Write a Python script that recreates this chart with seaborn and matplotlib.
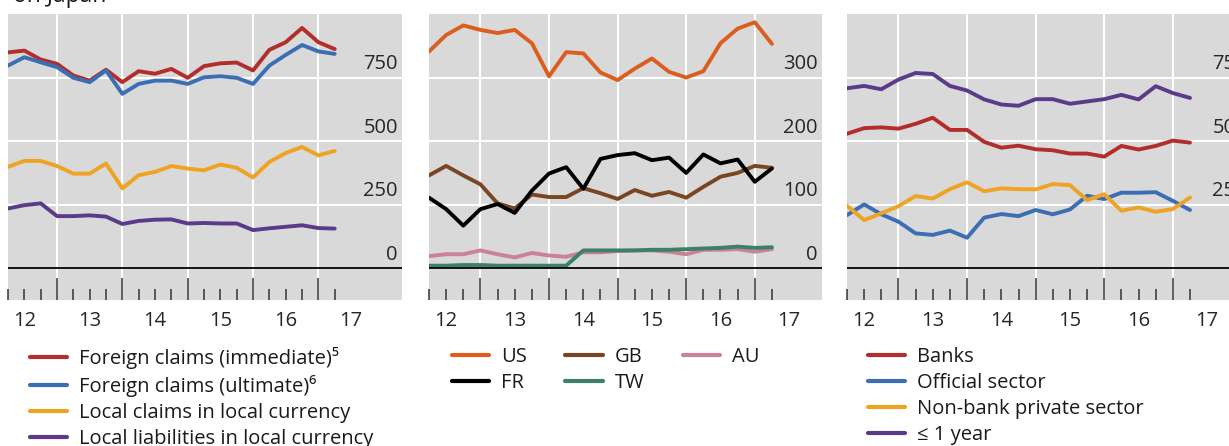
import numpy as np
import pandas as pd
import matplotlib.pyplot as plt
from matplotlib.transforms import ScaledTranslation
import seaborn as sns

# Quarterly observations, 2012 Q1 to 2017 Q1
quarters = pd.period_range('2012Q1', '2017Q1', freq='Q')
year_labels = ['12', '13', '14', '15', '16', '17']

# Left panel: banking positions
foreign_immediate = [849, 856, 821, 804, 758, 738, 781, 732, 775, 765, 784,
                     749, 795, 806, 809, 778, 859, 889, 945, 889, 862]
foreign_ultimate = [797, 830, 810, 791, 749, 732, 778, 686, 725, 738, 738,
                    725, 751, 755, 749, 725, 797, 839, 878, 853, 843]
local_claims = [399, 422, 422, 402, 372, 372, 412, 314, 366, 379, 402,
                392, 385, 408, 395, 357, 418, 453, 477, 444, 461]
local_liabilities = [235, 248, 255, 205, 205, 208, 203, 174, 186, 191, 192,
                     176, 178, 176, 176, 150, 157, 163, 169, 158, 156]

# Middle panel: by lender nationality
us = [341, 367, 382, 375, 370, 375, 354, 302, 340, 338, 308,
      296, 314, 330, 309, 300, 310, 354, 377, 387, 353]
gb = [146, 161, 146, 132, 102, 94, 116, 112, 112, 126, 118,
      109, 123, 114, 120, 111, 128, 144, 150, 161, 158]
au = [19, 22, 22, 28, 22, 17, 24, 20, 18, 25, 25,
      27, 28, 28, 26, 22, 29, 29, 30, 26, 30]
fr = [111, 93, 67, 93, 101, 87, 122, 149, 159, 125, 172,
      178, 181, 170, 174, 150, 179, 165, 171, 136, 157]
tw = [4, 4, 5, 5, 4, 4, 4, 4, 4, 28, 28,
      28, 28, 29, 29, 30, 31, 32, 34, 32, 33]

# Right panel: by sector and maturity
banks = [529, 551, 554, 549, 568, 592, 544, 544, 497, 474, 482,
         468, 464, 451, 451, 439, 481, 467, 481, 502, 494]
official = [209, 251, 212, 183, 137, 131, 148, 120, 199, 213, 205,
            229, 212, 231, 285, 272, 297, 297, 299, 265, 229]
nonbank = [246, 189, 216, 244, 284, 274, 311, 338, 303, 314, 311,
           310, 331, 327, 268, 291, 226, 239, 222, 233, 278]
short_term = [708, 717, 704, 742, 768, 764, 717, 699, 664, 644, 639,
              665, 665, 647, 656, 665, 682, 664, 716, 689, 670]

RED = '#B22E2C'
BLUE = '#3B6EB4'
YELLOW = '#EEA323'
PURPLE = '#5C3A8A'

sns.set_style('white')
plt.rcParams['font.family'] = ['Open Sans', 'DejaVu Sans']
plt.rcParams['text.color'] = '#1a1a1a'


def quarter_positions():
    """Quarter-end positions as fractional years."""
    return np.array([q.year + q.quarter / 4 for q in quarters])


def style_panel(fig, ax, ylim, yticks, xlim):
    """Grey BIS-style panel with labels inside on the right."""
    x = quarter_positions()
    ax.set_facecolor('#D9D9D9')
    for s in ax.spines.values():
        s.set_visible(False)
    ax.set_xlim(*xlim)
    ax.set_ylim(*ylim)
    ax.axhline(0, color='black', lw=1.3, zorder=3)

    # year boundaries (long ticks + grid) and quarters (short ticks)
    years = np.arange(2013, 2018)
    ax.set_xticks(years)
    ax.set_xticks([v for v in x if v % 1 != 0], minor=True)
    ax.tick_params(axis='x', which='major', direction='in', length=16,
                   width=1.1, color='#333333', labelbottom=False, bottom=True)
    ax.tick_params(axis='x', which='minor', direction='in', length=8,
                   width=1.1, color='#333333', bottom=True)
    ax.xaxis.grid(True, which='major', color='white', lw=1.5)

    sec = ax.secondary_xaxis('bottom')
    sec.set_xticks(np.arange(2012.5, 2018), year_labels)
    sec.tick_params(length=0, pad=8, labelsize=14.5)
    sec.spines['bottom'].set_visible(False)

    ax.yaxis.tick_right()
    ax.set_yticks(yticks)
    ax.yaxis.grid(True, color='white', lw=1.5)
    ax.tick_params(axis='y', length=0, pad=-3, labelsize=14.5)
    lift = ScaledTranslation(0, 2.5 / 72, fig.dpi_scale_trans)
    for lbl in ax.get_yticklabels():
        lbl.set_ha('right')
        lbl.set_va('bottom')
        lbl.set_transform(lbl.get_transform() + lift)
    ax.set_axisbelow(True)
    ax.set_xlabel('')
    ax.set_ylabel('')


def draw_lines(ax, series):
    x = quarter_positions()
    for name, values, color in series:
        sns.lineplot(x=x, y=values, color=color, lw=2.8, label=name, ax=ax)


def add_legend(ax, order, anchor, ncol=1):
    handles, labels = ax.get_legend_handles_labels()
    lookup = dict(zip(labels, handles))
    leg = ax.legend([lookup[k] for k in order], order, loc='upper left',
                    bbox_to_anchor=anchor, ncol=ncol, frameon=False,
                    fontsize=14.5, borderpad=0, borderaxespad=0,
                    handlelength=1.85, handletextpad=0.6, labelspacing=0.3,
                    columnspacing=1.9)
    for line in leg.get_lines():
        line.set_linewidth(3)


def main():
    fig = plt.figure(figsize=(12.29, 4.46), dpi=100)
    bottom, height = 1 - 300 / 446, 286 / 446
    ax1 = fig.add_axes([8 / 1229, bottom, 394 / 1229, height])
    ax2 = fig.add_axes([429 / 1229, bottom, 393 / 1229, height])
    ax3 = fig.add_axes([847 / 1229, bottom, 404 / 1229, height])

    # Left panel
    left = [('Foreign claims (immediate)⁵', foreign_immediate, RED),
            ('Foreign claims (ultimate)⁶', foreign_ultimate, BLUE),
            ('Local claims in local currency', local_claims, YELLOW),
            ('Local liabilities in local currency', local_liabilities, PURPLE)]
    draw_lines(ax1, left)
    style_panel(fig, ax1, (-125, 1000), [0, 250, 500, 750], (2012.25, 2018.28))
    add_legend(ax1, [s[0] for s in left], (0.056, -0.165))

    # Middle panel
    middle = [('US', us, '#DC5E1F'), ('GB', gb, '#7A4522'),
              ('AU', au, '#C98396'), ('TW', tw, '#3C8066'),
              ('FR', fr, 'black')]
    draw_lines(ax2, middle)
    style_panel(fig, ax2, (-50, 400), [0, 100, 200, 300], (2012.25, 2017.98))
    add_legend(ax2, ['US', 'FR', 'GB', 'TW', 'AU'], (0.058, -0.165), ncol=3)

    # Right panel
    right = [('Banks', banks, RED), ('Official sector', official, BLUE),
             ('Non-bank private sector', nonbank, YELLOW),
             ('≤ 1 year', short_term, PURPLE)]
    draw_lines(ax3, right)
    style_panel(fig, ax3, (-125, 1000), [0, 250, 500, 750],
                (2012.25, 2012.25 + 404 / 68.6))
    add_legend(ax3, [s[0] for s in right], (0.052, -0.165))

    fig.text(13 / 1229, 1 - 2 / 446, 'on Japan', fontsize=16.5, va='baseline')

    fig.savefig('out.png', dpi=100)


if __name__ == "__main__":
    main()
